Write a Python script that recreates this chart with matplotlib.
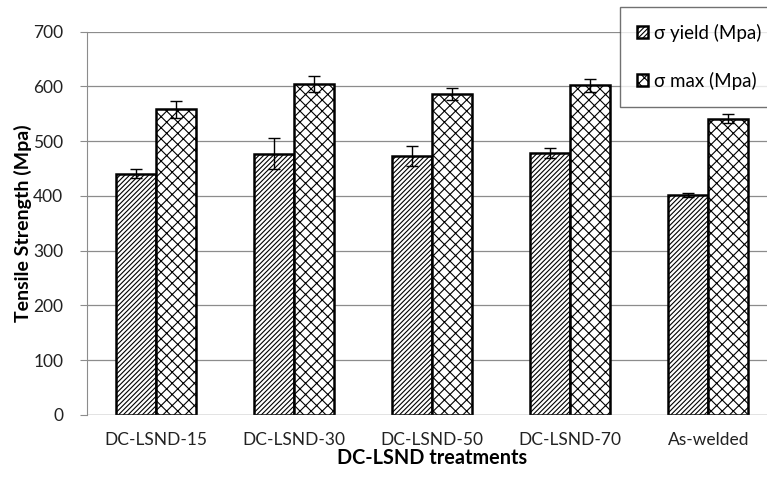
import numpy as np
import matplotlib.pyplot as plt
import matplotlib as mpl

mpl.rcParams['font.family'] = ['Lato', 'DejaVu Sans']
mpl.rcParams['hatch.linewidth'] = 0.8

# data
treatments = ['DC-LSND-15', 'DC-LSND-30', 'DC-LSND-50', 'DC-LSND-70', 'As-welded']
yield_vals = [441, 477, 473, 479, 402]
yield_err = [9, 28, 18, 9, 3]
max_vals = [558, 604, 587, 602, 541]
max_err = [16, 15, 11, 12, 8]

x = np.arange(len(treatments))
width = 0.29

fig = plt.figure(figsize=(7.67, 4.83), dpi=100)
ax = fig.add_axes([0.1134, 0.1408, 0.90, 0.7936])

ax.grid(True, axis='y', color='0.55', linewidth=0.9)
ax.set_axisbelow(True)

ax.bar(x - width / 2, yield_vals, width, color='white', edgecolor='black',
       linewidth=1.8, hatch='///////', label='σ yield (Mpa)')
ax.bar(x + width / 2, max_vals, width, color='white', edgecolor='black',
       linewidth=1.8, hatch='xxx', label='σ max (Mpa)')
ax.errorbar(x - width / 2, yield_vals, yerr=yield_err, fmt='none',
            ecolor='black', elinewidth=1.0, capsize=4, capthick=1.0)
ax.errorbar(x + width / 2, max_vals, yerr=max_err, fmt='none',
            ecolor='black', elinewidth=1.0, capsize=4, capthick=1.0)

ax.set_xlim(-0.5, len(treatments) - 0.5)
ax.set_ylim(0, 700)
ax.set_yticks(np.arange(0, 701, 100))
ax.set_xticks(x)
ax.set_xticklabels(treatments)
ax.tick_params(axis='both', labelsize=12.5, colors='#222222')
ax.tick_params(axis='y', length=5, color='0.55', pad=12)
ax.tick_params(axis='x', length=0, pad=12)

for side in ['top', 'right', 'bottom']:
    ax.spines[side].set_visible(False)
ax.spines['left'].set_color('0.55')
ax.axhline(0, color='0.55', linewidth=0.9)

ax.set_ylabel('Tensile Strength (Mpa)', fontsize=14, fontweight='bold', labelpad=1)
ax.set_xlabel('DC-LSND treatments', fontsize=14.3, fontweight='bold', labelpad=0)

leg = fig.legend(loc='upper left', bbox_to_anchor=(620 / 767, 1 - 7 / 483),
                 fontsize=13.5, frameon=True, fancybox=False, handlelength=0.6,
                 handleheight=0.6, handletextpad=0.3, labelspacing=1.6,
                 borderpad=0.9, borderaxespad=0)
leg.get_frame().set_edgecolor('0.3')
leg.get_frame().set_linewidth(1.0)

fig.savefig('out.png', dpi=100)
